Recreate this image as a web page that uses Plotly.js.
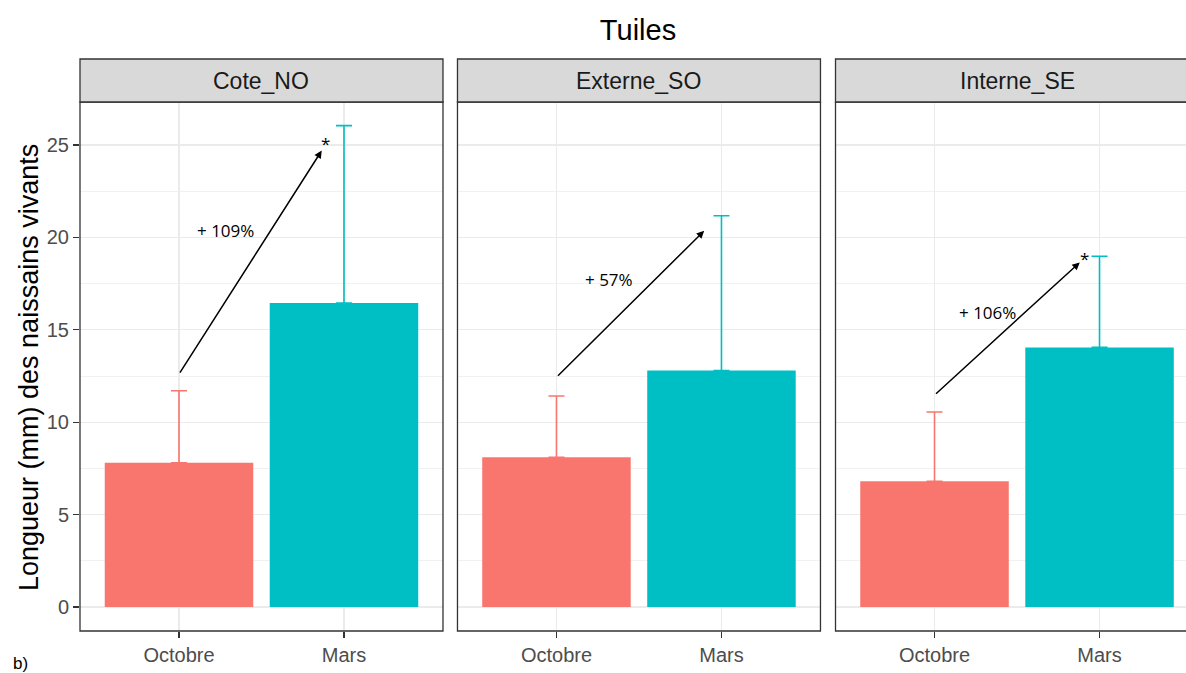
<!DOCTYPE html>
<html>
<head>
<meta charset="utf-8">
<script src="https://cdn.plot.ly/plotly-3.0.1.min.js"></script>
<style>html,body{margin:0;padding:0;background:#fff;}#chart{width:1186px;height:673px;}</style>
</head>
<body>
<div id="chart"></div>
<script>
// ---- data ----
const categories = ['Octobre', 'Mars'];
const panels = ['Cote_NO', 'Externe_SO', 'Interne_SE'];
const octobreMean = [7.8, 8.1, 6.8];
const octobreUpper = [11.7, 11.42, 10.55];
const marsMean = [16.45, 12.8, 14.05];
const marsUpper = [26.05, 21.17, 18.98];
const gainLabels = ['+ 109%', '+ 57%', '+ 106%'];
const significance = ['*', '', '*'];
const arrowFromY = [12.6, 12.43, 11.47];
const arrowToY = [24.7, 20.36, 18.65];
const arrowToX = [0.865, 0.895, 0.88];
const labelX = [0.28, 0.32, 0.32];
const labelY = [20.35, 17.75, 15.93];
const starX = [0.885, 0.91, 0.91];
const starY = [25.1, 0, 18.85];

const colOct = '#F8766D', colMars = '#00BFC4';
const axSuffix = ['', '2', '3'];
const domains = [[0, 0.3282], [0.3413, 0.6695], [0.6831, 1]];
const xRanges = [[-0.6, 1.6], [-0.6, 1.6], [-0.6, 1.524]];

const traces = [];
const layout = {
  width: 1186, height: 673,
  margin: {l: 80, r: 0, t: 102, b: 42, pad: 0},
  paper_bgcolor: '#ffffff', plot_bgcolor: '#ffffff',
  showlegend: false,
  barmode: 'overlay',
  font: {family: 'Liberation Sans, Arial, sans-serif', color: '#000'},
  title: {text: 'Tuiles', x: 638 / 1186, xref: 'container', xanchor: 'center',
          y: 1 - 30 / 673, yref: 'container', yanchor: 'middle',
          font: {size: 29, color: '#000', family: 'Liberation Sans, Arial, sans-serif'}},
  shapes: [], annotations: []
};

panels.forEach((p, i) => {
  const s = axSuffix[i];
  const xa = 'x' + s, ya = 'y' + s;
  traces.push({
    type: 'bar', x: [categories[0]], y: [octobreMean[i]], xaxis: xa, yaxis: ya,
    width: 0.9, marker: {color: colOct, line: {width: 0}},
    error_y: {type: 'data', symmetric: false, array: [octobreUpper[i] - octobreMean[i]], arrayminus: [0],
              color: colOct, thickness: 1.6, width: 8},
    hoverinfo: 'skip'
  });
  traces.push({
    type: 'bar', x: [categories[1]], y: [marsMean[i]], xaxis: xa, yaxis: ya,
    width: 0.9, marker: {color: colMars, line: {width: 0}},
    error_y: {type: 'data', symmetric: false, array: [marsUpper[i] - marsMean[i]], arrayminus: [0],
              color: colMars, thickness: 1.6, width: 8},
    hoverinfo: 'skip'
  });

  layout['xaxis' + s] = {
    domain: domains[i], anchor: ya, type: 'category', categoryorder: 'array', categoryarray: categories,
    range: xRanges[i], showgrid: true, gridcolor: '#EBEBEB', gridwidth: 1.3, zeroline: false,
    showline: false, ticks: 'outside', ticklen: 6, tickwidth: 1.3, tickcolor: '#333333',
    tickfont: {size: 20, color: '#4D4D4D', family: 'Liberation Sans, Arial, sans-serif'},
    fixedrange: true
  };
  layout['yaxis' + s] = {
    domain: [0, 1], anchor: xa, range: [-1.3, 27.33], tickvals: [0, 5, 10, 15, 20, 25],
    showgrid: true, gridcolor: '#EBEBEB', gridwidth: 1.3, zeroline: false, showline: false,
    minor: {dtick: 2.5, tick0: 0, showgrid: true, gridcolor: '#EEEEEE', gridwidth: 0.8, ticks: ''},
    ticks: i === 0 ? 'outside' : '', ticklen: 6, tickwidth: 1.3, tickcolor: '#333333',
    showticklabels: i === 0,
    tickfont: {size: 20, color: '#4D4D4D', family: 'Liberation Sans, Arial, sans-serif'},
    fixedrange: true
  };
  if (i > 0) layout['yaxis' + s].matches = 'y';

  // panel border
  layout.shapes.push({type: 'rect', xref: xa + ' domain', yref: ya + ' domain',
    x0: 0, x1: i === 2 ? 1.06 : 1, y0: 0, y1: 1, line: {color: '#333333', width: 1.3}, layer: 'above'});
  // strip
  layout.shapes.push({type: 'rect', xref: xa + ' domain', yref: 'paper',
    x0: 0, x1: i === 2 ? 1.06 : 1, y0: 1, y1: 1.0813, fillcolor: '#D9D9D9',
    line: {color: '#333333', width: 1.3}, layer: 'above'});
  layout.annotations.push({text: p, xref: xa + ' domain', yref: 'paper',
    x: i === 2 ? (363 / 2) / 350.5 : 0.5, y: 1.0406, xanchor: 'center', yanchor: 'middle', showarrow: false,
    font: {size: 23, color: '#1A1A1A', family: 'Liberation Sans, Arial, sans-serif'}});

  // arrow
  layout.annotations.push({text: '', xref: xa, yref: ya, x: arrowToX[i], y: arrowToY[i],
    axref: xa, ayref: ya, ax: 0, ay: arrowFromY[i], showarrow: true,
    arrowhead: 2, arrowsize: 1, arrowwidth: 1.5, arrowcolor: '#000', standoff: 0, startstandoff: 0});
  // label
  layout.annotations.push({text: gainLabels[i], xref: xa, yref: ya, x: labelX[i], y: labelY[i],
    xanchor: 'center', yanchor: 'middle', showarrow: false,
    font: {size: 17, color: '#000', family: 'Open Sans, Noto Sans, sans-serif'}});
  if (significance[i]) {
    layout.annotations.push({text: significance[i], xref: xa, yref: ya, x: starX[i], y: starY[i],
      xanchor: 'center', yanchor: 'middle', showarrow: false,
      font: {size: 17, color: '#000', family: 'Open Sans, Noto Sans, sans-serif'}});
  }
});

// y title
layout.annotations.push({text: 'Longueur (mm) des naissains vivants', xref: 'paper', yref: 'paper',
  x: (29 - 80) / 1106, y: (631 - 368) / 529, textangle: -90, xanchor: 'center', yanchor: 'middle',
  showarrow: false, font: {size: 27, color: '#000', family: 'Liberation Sans, Arial, sans-serif'}});
// panel tag
layout.annotations.push({text: 'b)', xref: 'paper', yref: 'paper',
  x: (20 - 80) / 1106, y: (631 - 663) / 529, xanchor: 'center', yanchor: 'middle',
  showarrow: false, font: {size: 17, color: '#000', family: 'Liberation Sans, Arial, sans-serif'}});

Plotly.newPlot('chart', traces, layout, {staticPlot: true, displayModeBar: false});
</script>
</body>
</html>
